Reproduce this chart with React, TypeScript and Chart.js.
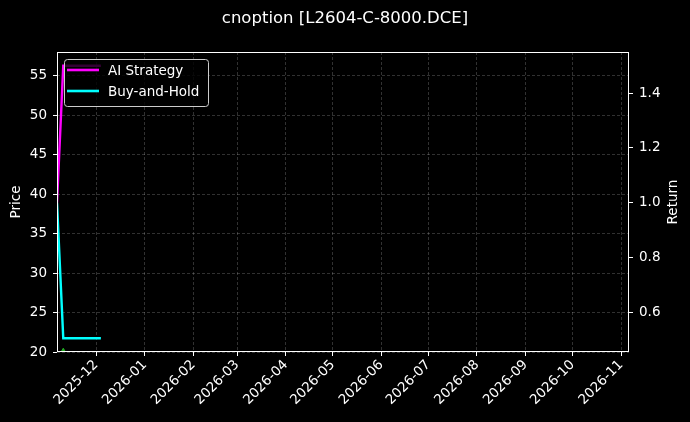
import React, { useEffect, useRef } from 'react';
import { Chart, registerables } from 'chart.js';
import type { Plugin } from 'chart.js';

Chart.register(...registerables);

// Valeurs
const dates = ['2025-11-06', '2025-11-10', '2025-12-04'];
const aiStrategy = [1.0, 1.5, 1.5];
const buyAndHold = [1.0, 0.505, 0.505];
const buySignalDates = ['2025-11-10'];
const buySignalPrices = [19.85];

const monthTicks = [
  '2025-12', '2026-01', '2026-02', '2026-03', '2026-04', '2026-05',
  '2026-06', '2026-07', '2026-08', '2026-09', '2026-10', '2026-11',
];
const priceTicks = [20, 25, 30, 35, 40, 45, 50, 55];
const returnTicks = [0.6, 0.8, 1.0, 1.2, 1.4];

const xRange = ['2025-11-06', '2026-11-06'];
const priceRange = [20, 58.04];
const returnRange = [0.455, 1.55];

const FONT = 'DejaVu Sans';

const toMs = (d: string) => {
  const [y, m, day = '1'] = d.split('-');
  return Date.UTC(+y, +m - 1, +day);
};

const fmtMonth = (v: number) => {
  const d = new Date(v);
  return `${d.getUTCFullYear()}-${String(d.getUTCMonth() + 1).padStart(2, '0')}`;
};

// fond noir, cadre, légende et titres des axes
const decorPlugin: Plugin = {
  id: 'decor',
  beforeDraw(chart) {
    const { ctx, width, height } = chart;
    ctx.save();
    ctx.fillStyle = '#000';
    ctx.fillRect(0, 0, width, height);
    ctx.restore();
  },
  afterDatasetsDraw(chart) {
    const { ctx, chartArea } = chart;
    ctx.save();
    // cadre
    const l = Math.round(chartArea.left) + 0.5;
    const t = Math.round(chartArea.top) + 0.5;
    const r = Math.round(chartArea.right) - 0.5;
    const b = Math.round(chartArea.bottom) - 0.5;
    ctx.strokeStyle = '#fff';
    ctx.lineWidth = 1;
    ctx.strokeRect(l, t, r - l, b - t);

    // légende
    const lx = 64, ly = 59, lw = 144, lh = 47;
    ctx.beginPath();
    ctx.roundRect(lx + 0.5, ly + 0.5, lw, lh, 3);
    ctx.fillStyle = 'rgba(0,0,0,0.8)';
    ctx.fill();
    ctx.strokeStyle = '#cccccc';
    ctx.lineWidth = 1;
    ctx.stroke();
    const items = chart.data.datasets.filter((ds: any) => !ds.hideInLegend);
    ctx.font = `13.5px "${FONT}"`;
    ctx.textBaseline = 'middle';
    ctx.textAlign = 'left';
    items.forEach((ds: any, i: number) => {
      const y = 70 + i * 21;
      ctx.strokeStyle = ds.borderColor;
      ctx.lineWidth = 2.6;
      ctx.beginPath();
      ctx.moveTo(67, y);
      ctx.lineTo(99, y);
      ctx.stroke();
      ctx.fillStyle = '#fff';
      ctx.fillText(ds.label, 108, y + 1);
    });

    // titres des axes
    const midY = (chartArea.top + chartArea.bottom) / 2;
    ctx.fillStyle = '#fff';
    ctx.textAlign = 'center';
    [['Price', 16], ['Return', 673]].forEach(([txt, x]) => {
      ctx.save();
      ctx.translate(x as number, midY);
      ctx.rotate(-Math.PI / 2);
      ctx.fillText(txt as string, 0, 0);
      ctx.restore();
    });
    ctx.restore();
  },
};

const gridStyle = {
  color: 'rgba(255,255,255,0.32)',
  lineWidth: 0.6,
  tickColor: '#fff',
  tickWidth: 1,
  tickLength: 4,
  tickBorderDash: [],
};

const App: React.FC = () => {
  const chartRef = useRef<HTMLCanvasElement>(null);
  const chartInstance = useRef<Chart | null>(null);

  useEffect(() => {
    document.body.style.margin = '0';
    document.body.style.background = '#000';
    if (!chartRef.current) return;
    if (chartInstance.current) chartInstance.current.destroy();

    const ctx = chartRef.current.getContext('2d');
    if (!ctx) return;

    const xs = dates.map(toMs);

    chartInstance.current = new Chart(ctx, {
      type: 'line',
      data: {
        datasets: [
          {
            label: 'AI Strategy',
            data: xs.map((x, i) => ({ x, y: aiStrategy[i] })),
            borderColor: '#ff00ff',
            borderWidth: 2.4,
            pointRadius: 0,
            tension: 0,
            yAxisID: 'y1',
          },
          {
            label: 'Buy-and-Hold',
            data: xs.map((x, i) => ({ x, y: buyAndHold[i] })),
            borderColor: '#00ffff',
            borderWidth: 2.4,
            pointRadius: 0,
            tension: 0,
            yAxisID: 'y1',
          },
          {
            label: 'Buy',
            hideInLegend: true,
            data: buySignalDates.map((d, i) => ({ x: toMs(d), y: buySignalPrices[i] })),
            showLine: false,
            pointStyle: 'triangle',
            pointRadius: 5,
            pointBackgroundColor: '#22aa22',
            pointBorderColor: '#22aa22',
            borderColor: '#22aa22',
            yAxisID: 'y',
            clip: 0,
          } as any,
        ],
      },
      options: {
        responsive: false,
        animation: false,
        events: [],
        layout: { padding: 0 },
        plugins: {
          legend: { display: false },
          tooltip: { enabled: false },
          title: {
            display: true,
            text: 'cnoption [L2604-C-8000.DCE]',
            color: '#fff',
            font: { family: FONT, size: 16.5, weight: 'normal' },
            padding: { top: 9.1, bottom: 23.1 },
          },
        },
        scales: {
          x: {
            type: 'linear',
            min: toMs(xRange[0]),
            max: toMs(xRange[1]),
            afterBuildTicks: (scale) => {
              scale.ticks = monthTicks.map((m) => ({ value: toMs(m) }));
            },
            afterFit: (scale) => {
              scale.height = 70;
            },
            ticks: {
              autoSkip: false,
              minRotation: 45,
              maxRotation: 45,
              padding: 1,
              labelOffset: 0,
              color: '#fff',
              font: { family: FONT, size: 13.5 },
              callback: (v) => fmtMonth(Number(v)),
            },
            grid: { ...gridStyle },
            border: { display: false, dash: [3, 2] },
          },
          y: {
            position: 'left',
            min: priceRange[0],
            max: priceRange[1],
            afterBuildTicks: (scale) => {
              scale.ticks = priceTicks.map((v) => ({ value: v }));
            },
            afterFit: (scale) => {
              scale.width = 57;
            },
            ticks: {
              padding: 6,
              color: '#fff',
              font: { family: FONT, size: 13.5 },
              callback: (v) => String(v),
            },
            grid: { ...gridStyle },
            border: { display: false, dash: [3, 2] },
          },
          y1: {
            position: 'right',
            min: returnRange[0],
            max: returnRange[1],
            afterBuildTicks: (scale) => {
              scale.ticks = returnTicks.map((v) => ({ value: v }));
            },
            afterFit: (scale) => {
              scale.width = 61;
            },
            ticks: {
              padding: 6,
              color: '#fff',
              font: { family: FONT, size: 13.5 },
              callback: (v) => Number(v).toFixed(1),
            },
            grid: { ...gridStyle, drawOnChartArea: false },
            border: { display: false },
          },
        },
      },
      plugins: [decorPlugin],
    });

    return () => {
      if (chartInstance.current) {
        chartInstance.current.destroy();
        chartInstance.current = null;
      }
    };
  }, []);

  return (
    <div style={{ width: 690, height: 422, background: '#000' }}>
      <canvas ref={chartRef} width={690} height={422} style={{ display: 'block' }} />
    </div>
  );
};

export default App;
